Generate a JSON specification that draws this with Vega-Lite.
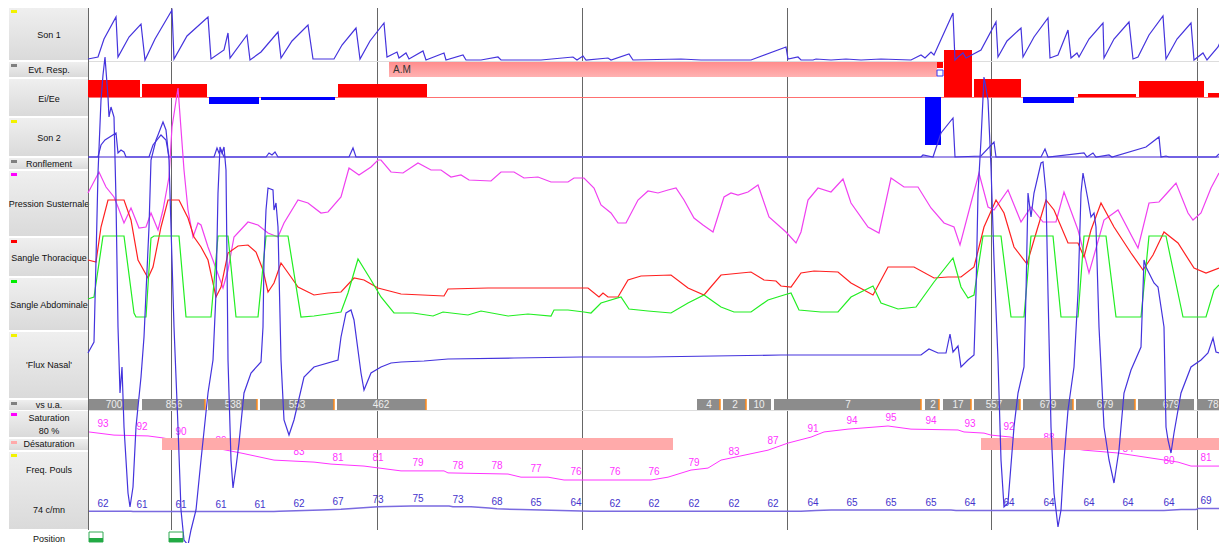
{
"$schema":"https://vega.github.io/schema/vega-lite/v6.json",
"background":"white",
"padding":{"left":8,"top":0,"right":0,"bottom":0},
"spacing":0,
"bounds":"flush",
"config":{"view":{"stroke":null},"font":"Liberation Sans","concat":{"spacing":0}},
"datasets":{
"tracks":[
{"label":"Son 1","top":8,"bottom":60},
{"label":"Evt. Resp.","top":62,"bottom":77},
{"label":"Ei/Ee","top":79,"bottom":116},
{"label":"Son 2","top":118,"bottom":156},
{"label":"Ronflement","top":158,"bottom":169},
{"label":"Pression Susternale","top":171,"bottom":236},
{"label":"Sangle Thoracique","top":238,"bottom":276},
{"label":"Sangle Abdominale","top":278,"bottom":330},
{"label":"'Flux Nasal'","top":332,"bottom":398},
{"label":"vs u.a.","top":400,"bottom":410},
{"label":"Saturation","top":411,"bottom":437},
{"label":"Désaturation","top":439,"bottom":450},
{"label":"Freq. Pouls","top":452,"bottom":529}
],
"texts":[
{"label":"Son 1","ly":35},{"label":"Evt. Resp.","ly":70},{"label":"Ei/Ee","ly":99},{"label":"Son 2","ly":138},{"label":"Ronflement","ly":164},{"label":"Pression Susternale","ly":204},{"label":"Sangle Thoracique","ly":258},{"label":"Sangle Abdominale","ly":305},{"label":"'Flux Nasal'","ly":365},{"label":"vs u.a.","ly":405},{"label":"Saturation","ly":418},{"label":"80 %","ly":431},{"label":"Désaturation","ly":444},{"label":"Freq. Pouls","ly":470},{"label":"74 c/mn","ly":510},{"label":"Position","ly":539}
],
"grid":[{"t":-0.5},{"t":82.5},{"t":288.5},{"t":493.5},{"t":698.5},{"t":902.5},{"t":1108.5}],
"evt":[{"t0":300,"t1":848,"label":"A.M"}],
"evtflag":[{"t0":848,"t1":854}],
"eiee":[
{"t0":-1,"t1":51,"v":17},{"t0":53,"t1":118,"v":13},{"t0":120,"t1":170,"v":-7},{"t0":172,"t1":246,"v":-3},{"t0":249,"t1":338,"v":13},
{"t0":836,"t1":852,"v":-48},{"t0":855,"t1":883,"v":47},{"t0":885,"t1":932,"v":18},{"t0":934,"t1":985,"v":-6},{"t0":989,"t1":1047,"v":3},{"t0":1050,"t1":1115,"v":16},{"t0":1119,"t1":1131,"v":4}
],
"vs":[
{"t0":0,"t1":49,"tc":25,"label":"700","edge":false},{"t0":53,"t1":116,"tc":85,"label":"856","edge":true},{"t0":119,"t1":168,"tc":144,"label":"538","edge":true},{"t0":171,"t1":245,"tc":208,"label":"553","edge":true},{"t0":248,"t1":337,"tc":292,"label":"462","edge":true},
{"t0":608,"t1":631,"tc":620,"label":"4","edge":true},{"t0":634,"t1":657,"tc":646,"label":"2","edge":true},{"t0":660,"t1":682,"tc":670,"label":"10","edge":false},{"t0":685,"t1":832,"tc":759,"label":"7","edge":true},{"t0":836,"t1":850,"tc":844,"label":"2","edge":true},{"t0":854,"t1":882,"tc":869,"label":"17","edge":true},{"t0":885,"t1":931,"tc":905,"label":"557","edge":true},{"t0":934,"t1":984,"tc":959,"label":"679","edge":true},{"t0":987,"t1":1046,"tc":1016,"label":"679","edge":true},{"t0":1049,"t1":1105,"tc":1082,"label":"679","edge":false},{"t0":1108,"t1":1131,"tc":1124,"label":"78","edge":false}
],
"desat":[{"t0":73,"t1":584},{"t0":892,"t1":1131}],
"pos":[{"t0":0,"t1":14},{"t0":80,"t1":94}],
"spo2":[
{"t":0,"v":92.9},{"t":25,"v":91.8},{"t":59,"v":91.5},{"t":74,"v":90.8},{"t":152,"v":85.5},{"t":185,"v":83.0},{"t":225,"v":82.3},{"t":242,"v":81.6},{"t":275,"v":80.9},{"t":312,"v":79.2},{"t":355,"v":79.2},{"t":359,"v":78.5},{"t":419,"v":78.1},{"t":432,"v":77.0},{"t":459,"v":77.0},{"t":475,"v":76.0},{"t":562,"v":76.0},{"t":579,"v":77.0},{"t":602,"v":79.5},{"t":619,"v":80.2},{"t":632,"v":83.0},{"t":679,"v":86.5},{"t":699,"v":89.0},{"t":722,"v":91.1},{"t":735,"v":92.9},{"t":759,"v":93.9},{"t":799,"v":95.0},{"t":822,"v":93.9},{"t":869,"v":93.6},{"t":875,"v":92.9},{"t":895,"v":92.5},{"t":902,"v":91.8},{"t":922,"v":91.1},{"t":929,"v":90.1},{"t":995,"v":86.5},{"t":1029,"v":85.5},{"t":1055,"v":84.1},{"t":1089,"v":82.3},{"t":1102,"v":80.9},{"t":1131,"v":80.9}
],
"pulse":[
{"t":0,"v":62},{"t":42,"v":62},{"t":44,"v":61},{"t":185,"v":61},{"t":190,"v":62},{"t":232,"v":65},{"t":252,"v":67},{"t":289,"v":73},{"t":322,"v":75},{"t":360,"v":75},{"t":364,"v":73},{"t":382,"v":73},{"t":400,"v":70},{"t":408,"v":68},{"t":432,"v":66},{"t":452,"v":65},{"t":472,"v":64},{"t":502,"v":62},{"t":712,"v":62},{"t":727,"v":64},{"t":742,"v":65},{"t":862,"v":65},{"t":867,"v":64},{"t":1075,"v":64},{"t":1092,"v":66},{"t":1107,"v":66},{"t":1109,"v":69},{"t":1131,"v":69}
],
"labels":[
{"t":14,"spo2":93,"lvl":93,"pulse":62},{"t":53,"spo2":92,"lvl":92,"pulse":61},{"t":92,"spo2":90,"lvl":90,"pulse":61},{"t":132,"spo2":89,"lvl":87,"pulse":61},{"t":171,"spo2":88,"lvl":85.3,"pulse":61},{"t":210,"spo2":83,"lvl":83,"pulse":62},{"t":249,"spo2":81,"lvl":81,"pulse":67},{"t":289,"spo2":81,"lvl":81,"pulse":73},{"t":329,"spo2":79,"lvl":79,"pulse":75},{"t":369,"spo2":78,"lvl":78,"pulse":73},{"t":408,"spo2":78,"lvl":78,"pulse":68},{"t":447,"spo2":77,"lvl":77,"pulse":65},{"t":487,"spo2":76,"lvl":76,"pulse":64},{"t":526,"spo2":76,"lvl":76,"pulse":62},{"t":565,"spo2":76,"lvl":76,"pulse":62},{"t":605,"spo2":79,"lvl":79,"pulse":62},{"t":645,"spo2":83,"lvl":83,"pulse":62},{"t":684,"spo2":87,"lvl":87,"pulse":62},{"t":724,"spo2":91,"lvl":91,"pulse":64},{"t":763,"spo2":94,"lvl":94,"pulse":65},{"t":802,"spo2":95,"lvl":95,"pulse":65},{"t":842,"spo2":94,"lvl":94,"pulse":65},{"t":881,"spo2":93,"lvl":93,"pulse":64},{"t":920,"spo2":92,"lvl":92,"pulse":64},{"t":960,"spo2":88,"lvl":88,"pulse":64},{"t":1000,"spo2":86,"lvl":86,"pulse":64},{"t":1039,"spo2":84,"lvl":84,"pulse":64},{"t":1080,"spo2":80,"lvl":80,"pulse":64},{"t":1117,"spo2":81,"lvl":81,"pulse":69}
],
"son1":[
{"t":-1,"v":2},{"t":9,"v":4},{"t":15,"v":22},{"t":27,"v":44},{"t":29,"v":4},{"t":40,"v":24},{"t":52,"v":37},{"t":56,"v":1},{"t":66,"v":22},{"t":83,"v":51},{"t":85,"v":2},{"t":98,"v":25},{"t":119,"v":44},{"t":122,"v":2},{"t":135,"v":11},{"t":139,"v":28},{"t":141,"v":3},{"t":158,"v":26},{"t":161,"v":1},{"t":172,"v":9},{"t":189,"v":29},{"t":192,"v":3},{"t":203,"v":20},{"t":219,"v":36},{"t":224,"v":2},{"t":245,"v":2},{"t":253,"v":16},{"t":267,"v":33},{"t":271,"v":2},{"t":281,"v":20},{"t":295,"v":38},{"t":298,"v":4},{"t":308,"v":9},{"t":310,"v":3},{"t":317,"v":8},{"t":320,"v":2},{"t":334,"v":10},{"t":337,"v":1},{"t":355,"v":8},{"t":357,"v":1},{"t":374,"v":6},{"t":377,"v":1},{"t":392,"v":1},{"t":409,"v":4},{"t":412,"v":1},{"t":452,"v":1},{"t":484,"v":4},{"t":488,"v":1},{"t":494,"v":5},{"t":497,"v":1},{"t":519,"v":3},{"t":522,"v":1},{"t":540,"v":7},{"t":544,"v":1},{"t":592,"v":2},{"t":612,"v":1},{"t":662,"v":1},{"t":697,"v":14},{"t":699,"v":2},{"t":709,"v":4},{"t":712,"v":1},{"t":724,"v":1},{"t":727,"v":2},{"t":742,"v":1},{"t":757,"v":2},{"t":772,"v":1},{"t":792,"v":2},{"t":822,"v":1},{"t":832,"v":6},{"t":836,"v":3},{"t":842,"v":9},{"t":845,"v":6},{"t":864,"v":48},{"t":866,"v":1},{"t":869,"v":4},{"t":874,"v":8},{"t":877,"v":3},{"t":892,"v":11},{"t":907,"v":39},{"t":909,"v":4},{"t":918,"v":20},{"t":932,"v":33},{"t":934,"v":4},{"t":945,"v":24},{"t":959,"v":43},{"t":961,"v":3},{"t":969,"v":6},{"t":979,"v":31},{"t":982,"v":3},{"t":988,"v":8},{"t":990,"v":4},{"t":1000,"v":22},{"t":1014,"v":38},{"t":1015,"v":3},{"t":1025,"v":22},{"t":1040,"v":39},{"t":1044,"v":2},{"t":1049,"v":4},{"t":1060,"v":26},{"t":1074,"v":45},{"t":1077,"v":2},{"t":1088,"v":22},{"t":1102,"v":38},{"t":1105,"v":1},{"t":1114,"v":8},{"t":1118,"v":1},{"t":1129,"v":14},{"t":1132,"v":21}
],
"son2":[
{"t":-1,"v":0},{"t":9,"v":0},{"t":12,"v":12},{"t":16,"v":17},{"t":27,"v":24},{"t":29,"v":4},{"t":32,"v":7},{"t":35,"v":5},{"t":37,"v":0},{"t":60,"v":0},{"t":64,"v":12},{"t":72,"v":22},{"t":77,"v":17},{"t":80,"v":0},{"t":125,"v":0},{"t":128,"v":9},{"t":130,"v":4},{"t":132,"v":7},{"t":135,"v":0},{"t":177,"v":0},{"t":180,"v":4},{"t":183,"v":2},{"t":186,"v":5},{"t":189,"v":0},{"t":260,"v":0},{"t":264,"v":9},{"t":267,"v":0},{"t":832,"v":0},{"t":834,"v":2},{"t":844,"v":0},{"t":852,"v":24},{"t":864,"v":39},{"t":866,"v":0},{"t":892,"v":1},{"t":905,"v":15},{"t":907,"v":0},{"t":952,"v":0},{"t":956,"v":8},{"t":959,"v":0},{"t":995,"v":4},{"t":998,"v":0},{"t":1004,"v":4},{"t":1007,"v":0},{"t":1020,"v":2},{"t":1023,"v":0},{"t":1057,"v":10},{"t":1070,"v":20},{"t":1072,"v":0},{"t":1077,"v":1},{"t":1080,"v":0},{"t":1127,"v":0},{"t":1130,"v":3}
],
"pression":[
{"t":-1,"v":107},{"t":10,"v":128},{"t":17,"v":113},{"t":25,"v":103},{"t":29,"v":93},{"t":35,"v":77},{"t":42,"v":92},{"t":50,"v":72},{"t":57,"v":73},{"t":62,"v":87},{"t":69,"v":70},{"t":74,"v":90},{"t":80,"v":123},{"t":83,"v":173},{"t":89,"v":212},{"t":95,"v":130},{"t":99,"v":90},{"t":104,"v":63},{"t":109,"v":77},{"t":112,"v":75},{"t":119,"v":53},{"t":125,"v":37},{"t":134,"v":12},{"t":139,"v":30},{"t":145,"v":63},{"t":159,"v":78},{"t":169,"v":75},{"t":179,"v":67},{"t":189,"v":63},{"t":195,"v":77},{"t":209,"v":100},{"t":219,"v":97},{"t":232,"v":87},{"t":239,"v":88},{"t":252,"v":103},{"t":260,"v":132},{"t":270,"v":125},{"t":282,"v":133},{"t":289,"v":140},{"t":292,"v":140},{"t":302,"v":128},{"t":314,"v":127},{"t":329,"v":137},{"t":342,"v":130},{"t":352,"v":130},{"t":362,"v":123},{"t":372,"v":125},{"t":380,"v":120},{"t":402,"v":119},{"t":412,"v":128},{"t":425,"v":128},{"t":435,"v":122},{"t":449,"v":123},{"t":462,"v":118},{"t":479,"v":118},{"t":485,"v":122},{"t":495,"v":122},{"t":505,"v":112},{"t":512,"v":95},{"t":522,"v":87},{"t":529,"v":77},{"t":537,"v":77},{"t":549,"v":100},{"t":559,"v":109},{"t":569,"v":107},{"t":579,"v":110},{"t":587,"v":112},{"t":595,"v":100},{"t":605,"v":82},{"t":614,"v":75},{"t":624,"v":68},{"t":635,"v":103},{"t":642,"v":107},{"t":649,"v":105},{"t":659,"v":108},{"t":669,"v":115},{"t":680,"v":83},{"t":697,"v":68},{"t":707,"v":57},{"t":712,"v":68},{"t":719,"v":100},{"t":729,"v":112},{"t":742,"v":108},{"t":754,"v":121},{"t":762,"v":97},{"t":779,"v":73},{"t":790,"v":67},{"t":802,"v":122},{"t":815,"v":113},{"t":829,"v":113},{"t":842,"v":92},{"t":855,"v":77},{"t":865,"v":73},{"t":871,"v":55},{"t":882,"v":97},{"t":890,"v":127},{"t":899,"v":93},{"t":905,"v":90},{"t":919,"v":110},{"t":932,"v":78},{"t":942,"v":93},{"t":954,"v":78},{"t":967,"v":78},{"t":975,"v":108},{"t":989,"v":70},{"t":1000,"v":27},{"t":1015,"v":80},{"t":1029,"v":90},{"t":1049,"v":52},{"t":1060,"v":97},{"t":1070,"v":98},{"t":1079,"v":108},{"t":1087,"v":117},{"t":1099,"v":87},{"t":1104,"v":80},{"t":1112,"v":87},{"t":1122,"v":112},{"t":1130,"v":127}
],
"thor":[
{"t":-1,"v":60},{"t":7,"v":58},{"t":12,"v":93},{"t":19,"v":120},{"t":35,"v":120},{"t":42,"v":100},{"t":49,"v":60},{"t":59,"v":42},{"t":64,"v":53},{"t":72,"v":93},{"t":79,"v":120},{"t":90,"v":120},{"t":99,"v":102},{"t":105,"v":83},{"t":112,"v":73},{"t":119,"v":60},{"t":127,"v":23},{"t":132,"v":33},{"t":139,"v":67},{"t":149,"v":74},{"t":159,"v":75},{"t":167,"v":68},{"t":174,"v":50},{"t":179,"v":28},{"t":185,"v":37},{"t":192,"v":57},{"t":202,"v":43},{"t":209,"v":33},{"t":225,"v":25},{"t":239,"v":27},{"t":252,"v":28},{"t":265,"v":42},{"t":275,"v":40},{"t":289,"v":32},{"t":312,"v":26},{"t":355,"v":24},{"t":359,"v":31},{"t":399,"v":32},{"t":445,"v":32},{"t":499,"v":32},{"t":510,"v":23},{"t":514,"v":27},{"t":519,"v":23},{"t":529,"v":23},{"t":539,"v":40},{"t":552,"v":44},{"t":582,"v":45},{"t":599,"v":32},{"t":615,"v":25},{"t":632,"v":45},{"t":662,"v":48},{"t":675,"v":40},{"t":687,"v":39},{"t":692,"v":34},{"t":702,"v":33},{"t":712,"v":47},{"t":725,"v":49},{"t":749,"v":48},{"t":762,"v":37},{"t":784,"v":25},{"t":799,"v":53},{"t":825,"v":53},{"t":845,"v":42},{"t":859,"v":43},{"t":872,"v":43},{"t":885,"v":53},{"t":895,"v":93},{"t":907,"v":120},{"t":915,"v":107},{"t":925,"v":73},{"t":938,"v":56},{"t":945,"v":80},{"t":957,"v":120},{"t":965,"v":110},{"t":979,"v":77},{"t":989,"v":77},{"t":995,"v":63},{"t":1002,"v":90},{"t":1012,"v":117},{"t":1025,"v":93},{"t":1042,"v":67},{"t":1054,"v":50},{"t":1064,"v":65},{"t":1075,"v":88},{"t":1089,"v":77},{"t":1105,"v":52},{"t":1117,"v":47},{"t":1130,"v":52}
],
"abd":[
{"t":-1,"v":21},{"t":5,"v":23},{"t":14,"v":84},{"t":35,"v":84},{"t":45,"v":7},{"t":47,"v":3},{"t":57,"v":3},{"t":62,"v":82},{"t":65,"v":84},{"t":90,"v":84},{"t":97,"v":3},{"t":122,"v":3},{"t":129,"v":84},{"t":139,"v":84},{"t":147,"v":3},{"t":169,"v":3},{"t":177,"v":84},{"t":199,"v":84},{"t":212,"v":3},{"t":225,"v":4},{"t":239,"v":6},{"t":252,"v":8},{"t":259,"v":27},{"t":269,"v":61},{"t":282,"v":40},{"t":292,"v":23},{"t":305,"v":7},{"t":324,"v":7},{"t":344,"v":4},{"t":354,"v":8},{"t":379,"v":5},{"t":392,"v":9},{"t":419,"v":4},{"t":439,"v":6},{"t":462,"v":4},{"t":465,"v":10},{"t":479,"v":10},{"t":495,"v":8},{"t":502,"v":7},{"t":512,"v":17},{"t":532,"v":23},{"t":540,"v":11},{"t":559,"v":9},{"t":582,"v":7},{"t":599,"v":17},{"t":615,"v":25},{"t":632,"v":13},{"t":645,"v":8},{"t":662,"v":8},{"t":679,"v":20},{"t":695,"v":25},{"t":702,"v":27},{"t":710,"v":10},{"t":732,"v":8},{"t":749,"v":8},{"t":762,"v":23},{"t":784,"v":34},{"t":792,"v":17},{"t":809,"v":11},{"t":827,"v":13},{"t":845,"v":38},{"t":864,"v":62},{"t":872,"v":33},{"t":879,"v":22},{"t":885,"v":25},{"t":894,"v":84},{"t":912,"v":84},{"t":922,"v":3},{"t":935,"v":3},{"t":942,"v":84},{"t":964,"v":84},{"t":972,"v":3},{"t":989,"v":3},{"t":995,"v":84},{"t":1017,"v":84},{"t":1027,"v":3},{"t":1052,"v":3},{"t":1060,"v":84},{"t":1077,"v":84},{"t":1094,"v":3},{"t":1117,"v":3},{"t":1125,"v":30},{"t":1130,"v":35}
],
"flux":[
{"t":-1,"v":2},{"t":5,"v":13},{"t":7,"v":95},{"t":9,"v":182},{"t":12,"v":255},{"t":14,"v":280},{"t":16,"v":298},{"t":19,"v":258},{"t":20,"v":238},{"t":22,"v":248},{"t":25,"v":238},{"t":27,"v":155},{"t":29,"v":28},{"t":31,"v":-38},{"t":33,"v":-12},{"t":35,"v":-72},{"t":39,"v":-138},{"t":41,"v":-152},{"t":44,"v":-132},{"t":47,"v":-72},{"t":52,"v":-22},{"t":55,"v":18},{"t":57,"v":62},{"t":60,"v":128},{"t":62,"v":195},{"t":67,"v":215},{"t":69,"v":220},{"t":74,"v":233},{"t":77,"v":225},{"t":80,"v":195},{"t":82,"v":128},{"t":85,"v":28},{"t":89,"v":-72},{"t":92,"v":-155},{"t":95,"v":-185},{"t":99,"v":-190},{"t":102,"v":-175},{"t":107,"v":-155},{"t":112,"v":-105},{"t":119,"v":-38},{"t":124,"v":-5},{"t":127,"v":62},{"t":129,"v":162},{"t":131,"v":208},{"t":133,"v":202},{"t":135,"v":208},{"t":137,"v":185},{"t":138,"v":95},{"t":139,"v":-5},{"t":142,"v":-105},{"t":144,"v":-133},{"t":147,"v":-112},{"t":150,"v":-88},{"t":155,"v":-38},{"t":162,"v":-18},{"t":172,"v":-7},{"t":174,"v":28},{"t":175,"v":95},{"t":177,"v":145},{"t":179,"v":167},{"t":184,"v":165},{"t":185,"v":145},{"t":187,"v":152},{"t":189,"v":128},{"t":192,"v":-5},{"t":195,"v":-65},{"t":200,"v":-80},{"t":205,"v":-65},{"t":215,"v":-22},{"t":225,"v":-12},{"t":249,"v":-5},{"t":252,"v":18},{"t":257,"v":42},{"t":262,"v":45},{"t":265,"v":35},{"t":272,"v":-18},{"t":275,"v":-35},{"t":282,"v":-18},{"t":292,"v":-12},{"t":302,"v":-8},{"t":312,"v":-7},{"t":335,"v":-6},{"t":359,"v":-4},{"t":425,"v":-3},{"t":492,"v":-2},{"t":559,"v":-2},{"t":625,"v":-1},{"t":692,"v":0},{"t":832,"v":0},{"t":840,"v":6},{"t":849,"v":2},{"t":857,"v":2},{"t":861,"v":21},{"t":864,"v":3},{"t":869,"v":9},{"t":872,"v":-12},{"t":879,"v":-5},{"t":885,"v":0},{"t":887,"v":62},{"t":889,"v":162},{"t":892,"v":215},{"t":895,"v":278},{"t":899,"v":255},{"t":902,"v":188},{"t":905,"v":95},{"t":909,"v":-5},{"t":912,"v":-105},{"t":915,"v":-152},{"t":919,"v":-148},{"t":925,"v":-72},{"t":929,"v":-38},{"t":935,"v":-12},{"t":937,"v":62},{"t":939,"v":162},{"t":942,"v":138},{"t":945,"v":162},{"t":952,"v":192},{"t":954,"v":193},{"t":957,"v":162},{"t":959,"v":62},{"t":962,"v":-72},{"t":965,"v":-138},{"t":969,"v":-172},{"t":972,"v":-155},{"t":975,"v":-105},{"t":979,"v":-55},{"t":985,"v":-12},{"t":989,"v":62},{"t":992,"v":162},{"t":994,"v":182},{"t":999,"v":155},{"t":1002,"v":138},{"t":1005,"v":142},{"t":1007,"v":128},{"t":1010,"v":28},{"t":1015,"v":-72},{"t":1020,"v":-105},{"t":1025,"v":-128},{"t":1030,"v":-95},{"t":1035,"v":-38},{"t":1042,"v":-15},{"t":1052,"v":8},{"t":1055,"v":95},{"t":1057,"v":88},{"t":1065,"v":72},{"t":1069,"v":68},{"t":1075,"v":28},{"t":1077,"v":-72},{"t":1079,"v":-85},{"t":1082,"v":-98},{"t":1085,"v":-78},{"t":1092,"v":-38},{"t":1102,"v":-12},{"t":1112,"v":-5},{"t":1119,"v":2},{"t":1124,"v":17},{"t":1127,"v":3},{"t":1130,"v":2}
]
},
"hconcat":[
{"width":80,"height":543,
"layer":[
{"data":{"name":"tracks"},"mark":{"type":"rect","fill":{"gradient":"linear","x1":0,"y1":0,"x2":0,"y2":1,"stops":[{"offset":0,"color":"#efefef"},{"offset":1,"color":"#dadada"}]}},
"encoding":{"y":{"field":"top","type":"quantitative","scale":{"domain":[0,543],"range":[0,543]},"axis":null},"y2":{"field":"bottom"}}},
{"data":{"name":"tracks"},"transform":[{"filter":"datum.label != 'Ei/Ee'"}],"mark":{"type":"rect","yOffset":2,"y2Offset":5},
"encoding":{"x":{"datum":2,"type":"quantitative","scale":{"domain":[0,80],"range":[0,80]},"axis":null},"x2":{"datum":8},
"y":{"field":"top","type":"quantitative","scale":{"domain":[0,543],"range":[0,543]},"axis":null},"y2":{"field":"top"},
"color":{"field":"label","type":"nominal","legend":null,"scale":{"domain":["Son 1","Evt. Resp.","Son 2","Ronflement","Pression Susternale","Sangle Thoracique","Sangle Abdominale","'Flux Nasal'","vs u.a.","Saturation","Désaturation","Freq. Pouls"],"range":["#f2f200","#808080","#f2f200","#808080","#ff00ff","#ff0000","#00ee00","#f2f200","#808080","#ff00ff","#ffaaaa","#f2f200"]}}}},
{"data":{"name":"texts"},"mark":{"type":"text","fontSize":9,"color":"#111111","align":"center","baseline":"middle"},
"encoding":{"y":{"field":"ly","type":"quantitative","scale":{"domain":[0,543],"range":[0,543]},"axis":null},"text":{"field":"label","type":"nominal"}}}
]},
{"width":1131,"height":543,
"resolve":{"scale":{"y":"independent"}},
"layer":[
{"data":{"name":"grid"},"mark":{"type":"rule","color":"#666666","strokeWidth":1},
"encoding":{"x":{"field":"t","type":"quantitative","scale":{"domain":[0,1131],"nice":false,"zero":false},"axis":null},"y":{"datum":1,"scale":{"domain":[0,1],"range":[530,8]},"axis":null},"y2":{"datum":0}}},
{"data":{"values":[{}]},"mark":{"type":"rule","color":"#dddddd","strokeWidth":1},"encoding":{"y":{"datum":0,"scale":{"domain":[0,53],"range":[61.5,8.5]},"axis":null}}},
{"data":{"values":[{}]},"mark":{"type":"rule","color":"#dddddd","strokeWidth":1},"encoding":{"y":{"datum":0,"scale":{"domain":[0,1],"range":[410.5,399.5]},"axis":null}}},
{"data":{"values":[{}]},"mark":{"type":"rule","color":"#ff7070","strokeWidth":1},"encoding":{"y":{"datum":0,"scale":{"domain":[-50,50],"range":[147.5,47.5]},"axis":null}}},
{"data":{"values":[{}]},"mark":{"type":"rule","color":"#a192e8","strokeWidth":2},"encoding":{"y":{"datum":0,"scale":{"domain":[0,40],"range":[157,117]},"axis":null}}},
{"data":{"name":"evt"},"mark":{"type":"rect","fill":{"gradient":"linear","x1":0,"y1":0,"x2":0,"y2":1,"stops":[{"offset":0,"color":"#ff8c8c"},{"offset":1,"color":"#ffb2b2"}]}},
"encoding":{"x":{"field":"t0","type":"quantitative","scale":{"domain":[0,1131],"nice":false,"zero":false},"axis":null},"x2":{"field":"t1"},"y":{"datum":1,"scale":{"domain":[0,1],"range":[77,62]},"axis":null},"y2":{"datum":0}}},
{"data":{"name":"evt"},"mark":{"type":"text","fontSize":10,"color":"#333333","align":"left","baseline":"middle","dx":4},
"encoding":{"x":{"field":"t0","type":"quantitative","scale":{"domain":[0,1131],"nice":false,"zero":false},"axis":null},"y":{"datum":0.5,"scale":{"domain":[0,1],"range":[77,62]},"axis":null},"text":{"field":"label","type":"nominal"}}},
{"data":{"name":"evtflag"},"mark":{"type":"rect","fill":"#ff0000"},
"encoding":{"x":{"field":"t0","type":"quantitative","scale":{"domain":[0,1131],"nice":false,"zero":false},"axis":null},"x2":{"field":"t1"},"y":{"datum":1,"scale":{"domain":[0,1],"range":[68,62]},"axis":null},"y2":{"datum":0}}},
{"data":{"name":"evtflag"},"mark":{"type":"rect","fill":"#ffffff","stroke":"#3333ee","strokeWidth":1},
"encoding":{"x":{"field":"t0","type":"quantitative","scale":{"domain":[0,1131],"nice":false,"zero":false},"axis":null},"x2":{"field":"t1"},"y":{"datum":1,"scale":{"domain":[0,1],"range":[76,70]},"axis":null},"y2":{"datum":0}}},
{"data":{"name":"eiee"},"mark":{"type":"rect"},
"encoding":{"x":{"field":"t0","type":"quantitative","scale":{"domain":[0,1131],"nice":false,"zero":false},"axis":null},"x2":{"field":"t1"},"y":{"field":"v","type":"quantitative","scale":{"domain":[-50,50],"range":[147,47]},"axis":null},"y2":{"datum":0},"color":{"condition":{"test":"datum.v > 0","value":"#ff0000"},"value":"#0000ff"}}},
{"data":{"name":"vs"},"mark":{"type":"rect","fill":"#8c8c8c"},
"encoding":{"x":{"field":"t0","type":"quantitative","scale":{"domain":[0,1131],"nice":false,"zero":false},"axis":null},"x2":{"field":"t1"},"y":{"datum":1,"scale":{"domain":[0,1],"range":[410,399]},"axis":null},"y2":{"datum":0}}},
{"data":{"name":"vs"},"transform":[{"filter":"datum.edge"}],"mark":{"type":"rule","color":"#ff8a1a","strokeWidth":1.5},
"encoding":{"x":{"field":"t1","type":"quantitative","scale":{"domain":[0,1131],"nice":false,"zero":false},"axis":null},"y":{"datum":1,"scale":{"domain":[0,1],"range":[410,399]},"axis":null},"y2":{"datum":0}}},
{"data":{"name":"vs"},"mark":{"type":"text","fontSize":10,"color":"#eeeeee","align":"center","baseline":"middle"},
"encoding":{"x":{"field":"tc","type":"quantitative","scale":{"domain":[0,1131],"nice":false,"zero":false},"axis":null},"y":{"datum":0.5,"scale":{"domain":[0,1],"range":[410,399]},"axis":null},"text":{"field":"label","type":"nominal"}}},
{"data":{"name":"spo2"},"mark":{"type":"line","color":"#ff33ff","strokeWidth":1},
"encoding":{"x":{"field":"t","type":"quantitative","scale":{"domain":[0,1131],"nice":false,"zero":false},"axis":null},"y":{"field":"v","type":"quantitative","scale":{"domain":[76,95],"range":[480,426]},"axis":null}}},
{"data":{"name":"labels"},"mark":{"type":"text","fontSize":10,"color":"#ff33ff","align":"center","baseline":"middle","dy":-8},
"encoding":{"x":{"field":"t","type":"quantitative","scale":{"domain":[0,1131],"nice":false,"zero":false},"axis":null},"y":{"field":"lvl","type":"quantitative","scale":{"domain":[76,95],"range":[480,426]},"axis":null},"text":{"field":"spo2","type":"nominal"}}},
{"data":{"name":"pulse"},"mark":{"type":"line","color":"#7a6ae0","strokeWidth":1.5},
"encoding":{"x":{"field":"t","type":"quantitative","scale":{"domain":[0,1131],"nice":false,"zero":false},"axis":null},"y":{"field":"v","type":"quantitative","scale":{"domain":[0,200],"range":[536,456]},"axis":null}}},
{"data":{"name":"labels"},"mark":{"type":"text","fontSize":10,"color":"#4433cc","align":"center","baseline":"middle","dy":-7},
"encoding":{"x":{"field":"t","type":"quantitative","scale":{"domain":[0,1131],"nice":false,"zero":false},"axis":null},"y":{"field":"pulse","type":"quantitative","scale":{"domain":[0,200],"range":[536,456]},"axis":null},"text":{"field":"pulse","type":"nominal"}}},
{"data":{"name":"desat"},"mark":{"type":"rect","fill":"#ffaaaa"},
"encoding":{"x":{"field":"t0","type":"quantitative","scale":{"domain":[0,1131],"nice":false,"zero":false},"axis":null},"x2":{"field":"t1"},"y":{"datum":1,"scale":{"domain":[0,1],"range":[450,438]},"axis":null},"y2":{"datum":0}}},
{"data":{"name":"son1"},"mark":{"type":"line","color":"#4433dd","strokeWidth":1.2},
"encoding":{"x":{"field":"t","type":"quantitative","scale":{"domain":[0,1131],"nice":false,"zero":false},"axis":null},"y":{"field":"v","type":"quantitative","scale":{"domain":[0,53],"range":[61,8]},"axis":null}}},
{"data":{"name":"son2"},"mark":{"type":"line","color":"#4433dd","strokeWidth":1.2},
"encoding":{"x":{"field":"t","type":"quantitative","scale":{"domain":[0,1131],"nice":false,"zero":false},"axis":null},"y":{"field":"v","type":"quantitative","scale":{"domain":[0,40],"range":[157,117]},"axis":null}}},
{"data":{"name":"pression"},"mark":{"type":"line","color":"#f040f0","strokeWidth":1.2},
"encoding":{"x":{"field":"t","type":"quantitative","scale":{"domain":[0,1131],"nice":false,"zero":false},"axis":null},"y":{"field":"v","type":"quantitative","scale":{"domain":[0,300],"range":[300,0]},"axis":null}}},
{"data":{"name":"thor"},"mark":{"type":"line","color":"#ff2020","strokeWidth":1.2},
"encoding":{"x":{"field":"t","type":"quantitative","scale":{"domain":[0,1131],"nice":false,"zero":false},"axis":null},"y":{"field":"v","type":"quantitative","scale":{"domain":[0,320],"range":[320,0]},"axis":null}}},
{"data":{"name":"abd"},"mark":{"type":"line","color":"#22ee22","strokeWidth":1.2},
"encoding":{"x":{"field":"t","type":"quantitative","scale":{"domain":[0,1131],"nice":false,"zero":false},"axis":null},"y":{"field":"v","type":"quantitative","scale":{"domain":[0,320],"range":[320,0]},"axis":null}}},
{"data":{"name":"flux"},"mark":{"type":"line","color":"#4433dd","strokeWidth":1.2},
"encoding":{"x":{"field":"t","type":"quantitative","scale":{"domain":[0,1131],"nice":false,"zero":false},"axis":null},"y":{"field":"v","type":"quantitative","scale":{"domain":[-200,300],"range":[555,55]},"axis":null}}},
{"data":{"name":"pos"},"mark":{"type":"rect","fill":"#ffffff","stroke":"#33aa55","strokeWidth":1},
"encoding":{"x":{"field":"t0","type":"quantitative","scale":{"domain":[0,1131],"nice":false,"zero":false},"axis":null},"x2":{"field":"t1"},"y":{"datum":1,"scale":{"domain":[0,1],"range":[542,532]},"axis":null},"y2":{"datum":0}}},
{"data":{"name":"pos"},"mark":{"type":"rect","fill":"#22aa44"},
"encoding":{"x":{"field":"t0","type":"quantitative","scale":{"domain":[0,1131],"nice":false,"zero":false},"axis":null},"x2":{"field":"t1"},"y":{"datum":1,"scale":{"domain":[0,1],"range":[542,538]},"axis":null},"y2":{"datum":0}}}
]}
]
}
